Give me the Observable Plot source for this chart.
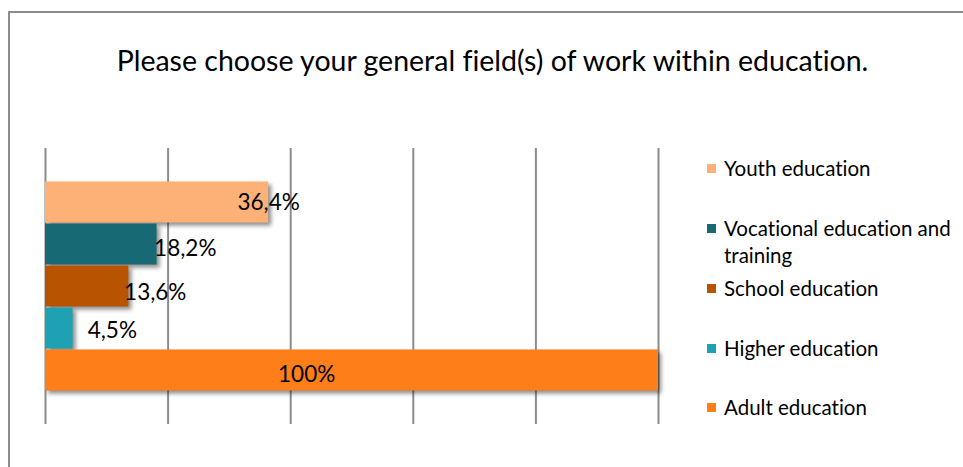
<!DOCTYPE html>
<html>
<head>
<meta charset="utf-8">
<script src="https://cdn.jsdelivr.net/npm/d3@7"></script>
<script src="https://cdn.jsdelivr.net/npm/@observablehq/plot@0.6"></script>
<style>
  html, body { margin: 0; padding: 0; background: #fff; }
  #wrap { position: relative; width: 963px; height: 467px; overflow: hidden; font-family: Lato, "Open Sans", sans-serif; color: #000; font-variant-ligatures: none; }
  #frame { position: absolute; left: 8px; top: 11px; width: 980px; height: 480px; border: 2px solid #8c8c8c; box-sizing: border-box; }
  #title { position: absolute; left: 0; width: 985px; top: 43px; text-align: center; font-size: 28.5px; }
  #chart { position: absolute; left: 0; top: 0; }
  #chart text { font-variant-ligatures: none; }
  #legend { position: absolute; left: 707px; top: 0; font-size: 20.5px; }
  .item { position: absolute; left: 0; white-space: nowrap; line-height: 27px; }
  .sw { position: absolute; left: 0; width: 9px; height: 9px; }
  .lab { position: absolute; left: 17px; }
  #chart g[aria-label="bar"] rect { filter: drop-shadow(3px 3px 2px rgba(0,0,0,0.45)); }
</style>
</head>
<body>
<div id="wrap">
  <div id="frame"></div>
  <div id="title"></div>
  <div id="chart"></div>
  <div id="legend"></div>
</div>
<script>
const title = "Please choose your general field(s) of work within education.";
const categories = ["Youth education", "Vocational education and training", "School education", "Higher education", "Adult education"];
const values = [36.4, 18.2, 13.6, 4.5, 100];
const valueLabels = ["36,4%", "18,2%", "13,6%", "4,5%", "100%"];
const colors = ["#fdb176", "#176a73", "#b85300", "#1fa1b4", "#fe7e19"];
const xTicks = [0, 20, 40, 60, 80, 100];
const legendLines = [["Youth education"], ["Vocational education and", "training"], ["School education"], ["Higher education"], ["Adult education"]];

// label placement tweaks (in x units), matching the reference's hand-placed labels
const labelShift = [0, 4.6, 4.3, 6.4, -57.4];
const labelDy = [0, 4, 6, 2, 4];

const data = categories.map((c, i) => ({cat: c, value: values[i], label: valueLabels[i], color: colors[i], lx: values[i] + labelShift[i], dy: labelDy[i]}));

document.getElementById("title").textContent = title;

const W = 963, H = 467;
const chart = Plot.plot({
  width: W,
  height: H,
  marginLeft: 45,
  marginRight: W - 658,
  marginTop: 148,
  marginBottom: H - 424,
  style: {background: "transparent", fontFamily: "Lato, 'Open Sans', sans-serif"},
  x: {domain: [0, 100], ticks: xTicks, axis: null},
  y: {domain: categories, axis: null, paddingInner: 0, paddingOuter: 0.77},
  color: {domain: categories, range: colors},
  marks: [
    Plot.ruleX(xTicks, {stroke: "#8c8c8c", strokeWidth: 2, strokeOpacity: 1}),
    Plot.barX(data, {x: "value", y: "cat", fill: "color", insetTop: 0.5, insetBottom: 0.5}),
    ...data.map(d => Plot.text([d], {x: "lx", y: "cat", text: "label", fontSize: 22.5, fill: "#000", dy: d.dy}))
  ]
});
document.getElementById("chart").appendChild(chart);

const legendY = [168, 228, 288, 348, 407];
const legend = document.getElementById("legend");
legendLines.forEach((lines, i) => {
  const it = document.createElement("div");
  it.className = "item";
  it.style.top = (legendY[i] - 13.5) + "px";
  const sw = document.createElement("div");
  sw.className = "sw";
  sw.style.background = colors[i];
  sw.style.top = "9px";
  const lab = document.createElement("div");
  lab.className = "lab";
  lab.innerHTML = lines.join("<br>");
  it.appendChild(sw); it.appendChild(lab);
  legend.appendChild(it);
});
</script>
</body>
</html>
